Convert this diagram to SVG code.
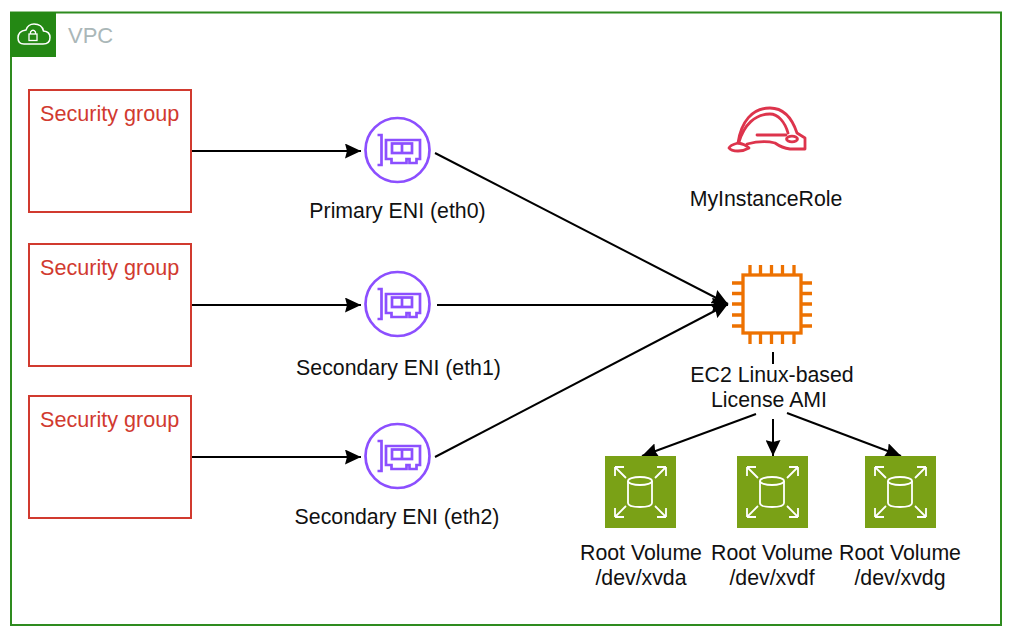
<svg xmlns="http://www.w3.org/2000/svg" width="1015" height="630" viewBox="0 0 1015 630">
<style>
text{font-family:"Liberation Sans",Arial,sans-serif;font-size:21.300px;fill:#111;text-anchor:middle}
.sg rect{fill:#fff;stroke:#d13a2f;stroke-width:2}
.sg text{fill:#d13a2f;text-anchor:start;font-size:21.600px}
.c{stroke:#000;stroke-width:2;fill:none;marker-end:url(#a)}
.p{stroke:#000;stroke-width:2;fill:none}
.eni{fill:none;stroke:#8c4fff;stroke-width:2.700}
.ec2{fill:none;stroke:#ed7100;stroke-width:3.300}
.w{fill:none;stroke:#fff;stroke-width:1.800}
.role{fill:none;stroke:#dd344c;stroke-width:2.800;stroke-linejoin:round;stroke-linecap:round}
</style>
<defs>
<marker id="a" markerUnits="userSpaceOnUse" markerWidth="17" markerHeight="15" refX="16" refY="7.500" orient="auto" viewBox="0 0 17 15">
<path d="M0 0L16 7.500L0 15L2 7.500Z" fill="#000"/>
</marker>
<g id="eniIcon" class="eni">
<circle cx="0" cy="0" r="32"/>
<path d="M-20-15h4V15h-4"/>
<path d="M-11.500-10H22.500V9H19V13H12V9H9V13H-6V9H-11.500Z"/>
<rect x="-5.500" y="-6.500" width="20" height="9.500"/>
<path d="M4.500-6.500V3"/>
</g>
<g id="vol">
<rect x="0" y="0" width="71" height="72" fill="#7aa116"/>
<g class="w">
<ellipse cx="35" cy="25" rx="12" ry="4"/>
<path d="M23 25V47Q23 51 35 51Q47 51 47 47V25"/>
<path d="M10 11H19M10 11V20M10 11L21 22"/>
<path d="M61 11H52M61 11V20M61 11L50 22"/>
<path d="M10 61H19M10 61V52M10 61L21 50"/>
<path d="M61 61H52M61 61V52M61 61L50 50"/>
</g>
</g>
</defs>
<rect width="1015" height="630" fill="#fff"/>
<g id="vpc">
<rect x="11" y="12.500" width="990" height="612.500" fill="#fff" stroke="#2e8b1f" stroke-width="2"/>
<rect x="10" y="12" width="46" height="45" fill="#248814"/>
<path d="M24 44H43Q50 44 50 37.500Q50 31.500 43.500 31Q42 24 34 24Q28 24 26 30Q18 31 18 38Q18 44 24 44Z" fill="none" stroke="#fff" stroke-width="1.500"/>
<rect x="29" y="34" width="8" height="6.500" fill="none" stroke="#fff" stroke-width="1.300"/>
<path d="M30.500 34V32Q33 28.500 35.500 32V34" fill="none" stroke="#fff" stroke-width="1.300"/>
<text x="68" y="43" style="text-anchor:start;font-size:22px;fill:#aab7b8">VPC</text>
</g>
<g id="connectors">
<path class="c" d="M191 151H361"/>
<path class="c" d="M191 305H361"/>
<path class="c" d="M191 457H361"/>
<path class="c" d="M435 153L728 304"/>
<path class="c" d="M437 305H728"/>
<path class="c" d="M435 457L728 304"/>
<path class="p" d="M773 352V364"/>
<path class="c" d="M756 414L642 456"/>
<path class="c" d="M773 419V456"/>
<path class="c" d="M787 413L901 456"/>
</g>
<g id="sg1" class="sg"><rect x="29" y="90" width="162" height="122"/><text x="40" y="121">Security group</text></g>
<g id="sg2" class="sg"><rect x="29" y="244" width="162" height="122"/><text x="40" y="275">Security group</text></g>
<g id="sg3" class="sg"><rect x="29" y="396" width="162" height="122"/><text x="40" y="427">Security group</text></g>
<g id="eni0"><use href="#eniIcon" x="397.500" y="150"/><text x="397.500" y="218">Primary ENI (eth0)</text></g>
<g id="eni1"><use href="#eniIcon" x="397.500" y="304"/><text x="398.500" y="375">Secondary ENI (eth1)</text></g>
<g id="eni2"><use href="#eniIcon" x="397.500" y="456"/><text x="397" y="524">Secondary ENI (eth2)</text></g>
<g id="role">
<path class="role" d="M738 143C741 122 752 108 770 108C783 108 792 118 797 133L805 138V149H790Q782 148 775 143Q763 140 747 144"/>
<path class="role" d="M738 143Q730 145 729 148Q731 151 738 151Q744 151 749 148Q745 144 738 143Z"/>
<path class="role" d="M739 142C744 125 755 114 770 114C778 114 785 122 788 133M757 135H786"/>
<ellipse class="role" cx="792" cy="139" rx="5.500" ry="2.800"/>
<text x="766" y="206">MyInstanceRole</text>
</g>
<g id="ec2">
<g class="ec2">
<rect x="743" y="275" width="58" height="58"/>
<path d="M750 275V265M760.500 275V265M771.500 275V265M782.500 275V265M794 275V265"/>
<path d="M750 333V344M760.500 333V344M771.500 333V344M782.500 333V344M794 333V344"/>
<path d="M743 283H732M743 293.500H732M743 304H732M743 315H732M743 326H732"/>
<path d="M801 283H812M801 293.500H812M801 304H812M801 315H812M801 326H812"/>
</g>
<text x="772" y="382">EC2 Linux-based</text>
<text x="769" y="407">License AMI</text>
</g>
<g id="vola"><use href="#vol" x="605" y="456"/><text x="641" y="560">Root Volume</text><text x="641" y="585">/dev/xvda</text></g>
<g id="volf"><use href="#vol" x="737" y="456"/><text x="772" y="560">Root Volume</text><text x="772" y="585">/dev/xvdf</text></g>
<g id="volg"><use href="#vol" x="865" y="456"/><text x="900" y="560">Root Volume</text><text x="900" y="585">/dev/xvdg</text></g>
</svg>
